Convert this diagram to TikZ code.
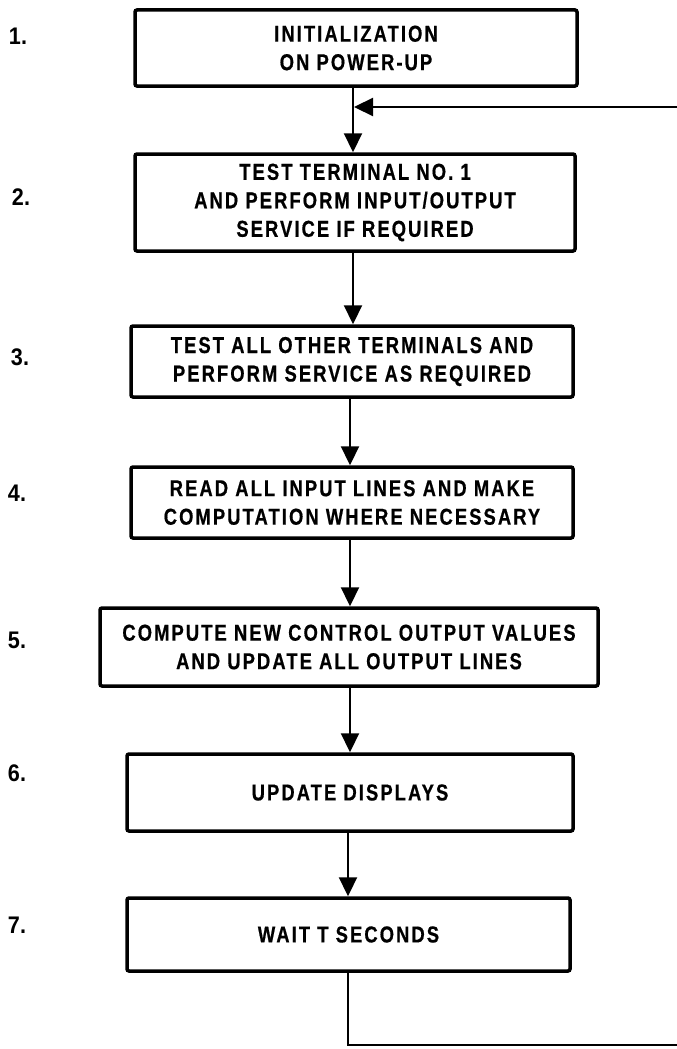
\documentclass[tikz,border=0pt]{standalone}
\usepackage{fontspec}
\setmainfont{Liberation Sans}
\newfontfamily\chartfont{Liberation Sans}[FakeStretch=0.8,LetterSpace=9,FakeBold=0.6]
\newfontfamily\numfont{Liberation Sans}[FakeStretch=0.9]
\usetikzlibrary{arrows.meta,calc}

\begin{document}
\begin{tikzpicture}[x=1pt,y=-1pt,
  stepbox/.style={draw, line width=3.5pt, rounded corners=2pt, align=center,
    inner sep=0pt, font=\chartfont\bfseries\fontsize{23}{28.5}\selectfont},
  stepnum/.style={font=\numfont\bfseries\fontsize{24}{26}\selectfont, inner sep=0pt},
  flow/.style={line width=2.2pt, -{Triangle[length=19pt,width=18pt]}},
  wire/.style={line width=2.2pt}]

\useasboundingbox (0,0) rectangle (677,1049);

% process boxes
\node[stepbox, minimum width=442pt, minimum height=76pt] (b1) at (356,48)
  {INITIALIZATION\\ON POWER-UP};
\node[stepbox, minimum width=440pt, minimum height=97pt] (b2) at (355,202.5)
  {TEST TERMINAL NO. 1\\AND PERFORM INPUT/OUTPUT\\SERVICE IF REQUIRED};
\node[stepbox, minimum width=442pt, minimum height=71pt] (b3) at (352,361.5)
  {TEST ALL OTHER TERMINALS AND\\PERFORM SERVICE AS REQUIRED};
\node[stepbox, minimum width=442pt, minimum height=71pt] (b4) at (352,502.5)
  {READ ALL INPUT LINES AND MAKE\\COMPUTATION WHERE NECESSARY};
\node[stepbox, minimum width=498pt, minimum height=78pt] (b5) at (349,647)
  {COMPUTE NEW CONTROL OUTPUT VALUES\\AND UPDATE ALL OUTPUT LINES};
\node[stepbox, minimum width=446pt, minimum height=77pt] (b6) at (350,792.5)
  {UPDATE DISPLAYS};
\node[stepbox, minimum width=443pt, minimum height=73pt] (b7) at (348.5,934.5)
  {WAIT T SECONDS};

% step numbers
\node[stepnum] (n1) at (18,36) {1.};
\node[stepnum] (n2) at (21,197) {2.};
\node[stepnum] (n3) at (20,357) {3.};
\node[stepnum] (n4) at (17,493) {4.};
\node[stepnum] (n5) at (17,640) {5.};
\node[stepnum] (n6) at (17,773) {6.};
\node[stepnum] (n7) at (17,925) {7.};

% x positions of the vertical connectors
\coordinate (xa) at (353,0);
\coordinate (xb) at (350,0);
\coordinate (xc) at (348,0);

\draw[flow] (b1.south -| xa) -- (b2.north -| xa);
\draw[flow] (b2.south -| xa) -- (b3.north -| xa);
\draw[flow] (b3.south -| xb) -- (b4.north -| xb);
\draw[flow] (b4.south -| xb) -- (b5.north -| xb);
\draw[flow] (b5.south -| xb) -- (b6.north -| xb);
\draw[flow] (b6.south -| xc) -- (b7.north -| xc);

% loop back from the last step to step 2
\coordinate (retcorner) at (348,1045);
\coordinate (retout) at (680,1045);
\coordinate (retin) at (680,107);
\coordinate (join) at (354,107);
\draw[wire] (b7.south -| xc) -- (retcorner) -- (retout);
\draw[flow] (retin) -- (join);
\end{tikzpicture}
\end{document}
